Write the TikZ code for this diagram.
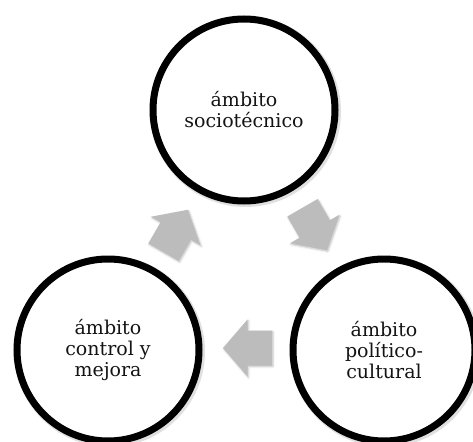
\documentclass[tikz,border=0pt]{standalone}
\usepackage{fontspec}
\setmainfont{DejaVu Serif}
\usetikzlibrary{shadows.blur}

\definecolor{arrowgray}{RGB}{188,188,188}
\definecolor{labelgray}{RGB}{20,20,20}

\tikzset{
  % the three "ámbito" circles
  ambit/.style={circle, draw=black, line width=7pt, fill=white,
    minimum size=182pt, inner sep=0pt, align=center,
    font=\fontsize{19}{21}\selectfont, text=labelgray},
  ambitshade/.style={circle, draw=black, draw opacity=0.12, line width=9pt,
    minimum size=182pt, inner sep=0pt},
  % grey block arrows of the cycle
  flowarrow/.style={fill=arrowgray, draw=none,
    blur shadow={shadow xshift=1pt, shadow yshift=-1.2pt,
      shadow blur radius=2pt, shadow opacity=25}},
  pics/blockarrow/.style={code={
    \path[flowarrow] (-24.5,-17.5) -- (0,-17.5) -- (0,-28.5) -- (24.5,0)
      -- (0,28.5) -- (0,17.5) -- (-24.5,17.5) -- cycle;}}
}

\begin{document}
\begin{tikzpicture}[x=1pt,y=-1pt]
  \useasboundingbox (0,0) rectangle (473,441);

  % soft shading just outside the rings
  \node[ambitshade] (shadeA) at (245.5,111.5) {};
  \node[ambitshade] (shadeB) at (109.5,351.5) {};
  \node[ambitshade] (shadeC) at (385.5,351.5) {};

  \node[ambit] (socio)   at (244,110) {ámbito\\sociotécnico};
  \node[ambit] (control) at (108,350) {ámbito\\control y\\mejora};
  \node[ambit] (polit)   at (384,350) {ámbito\\político-\\cultural};

  % cycle: control -> socio -> polit -> control
  \pic[rotate=60]  at (175.7,231) {blockarrow};
  \pic[rotate=-60] at (314.7,229) {blockarrow};
  \pic[rotate=180] at (247.5,348) {blockarrow};
\end{tikzpicture}
\end{document}
